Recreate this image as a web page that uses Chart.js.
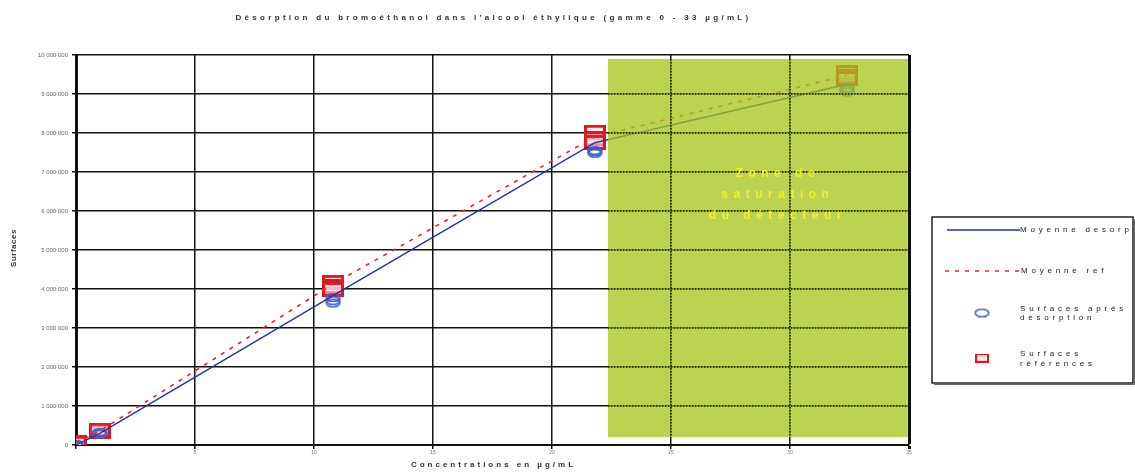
<!DOCTYPE html>
<html>
<head>
<meta charset="utf-8">
<script src="https://cdn.jsdelivr.net/npm/chart.js@4"></script>
<style>
  html, body { margin: 0; padding: 0; background: #ffffff; }
  #wrap { width: 1135px; height: 472px; position: relative; }
</style>
</head>
<body>
<div id="wrap"><canvas id="c" width="1135" height="472"></canvas></div>
<script>
// ---- data ----
const concentrations = [0, 1, 10.8, 21.8, 32.4];
const meanDesorp = [0, 300000, 3830000, 7750000, 9250000];
const meanRef = [50000, 360000, 4130000, 7900000, 9480000];
const desorpRep1 = [0, 300000, 3780000, 7550000, 9150000];
const desorpRep2 = [20000, 330000, 3700000, 7480000, 9100000];
const desorpRep3 = [0, 280000, 3640000, 7520000, 9050000];
const refRep1 = [60000, 360000, 4170000, 8020000, 9550000];
const refRep2 = [40000, 350000, 4060000, 7850000, 9450000];
const refRep3 = [50000, 380000, 3990000, 7760000, 9400000];
const xTicks = [0, 5, 10, 15, 20, 25, 30, 35];
const yTicks = [0, 1000000, 2000000, 3000000, 4000000, 5000000, 6000000, 7000000, 8000000, 9000000, 10000000];
const zoneRange = { xFrom: 22.35, xTo: 34.95, yFrom: 200000, yTo: 9900000 };
const zoneLines = ["Zone de", "saturation", "du détecteur"];
const titleText = "Désorption du bromoéthanol dans l'alcool éthylique (gamme 0 - 33 µg/mL)";
const xTitle = "Concentrations en µg/mL";
const yTitle = "Surfaces";
const legendLabels = ["Moyenne desorp", "Moyenne ref", ["Surfaces après", "désorption"], ["Surfaces", "références"]];

const FONT = "'Liberation Sans', Arial, sans-serif";

function pts(xs, ys) { return xs.map((x, i) => ({ x: x, y: ys[i] })); }

function makeRect() {
  const c = document.createElement('canvas'); c.width = 22; c.height = 15;
  const g = c.getContext('2d');
  g.fillStyle = 'rgba(255,215,230,0.6)'; g.fillRect(0, 0, 22, 15);
  g.strokeStyle = '#e01820'; g.lineWidth = 3; g.strokeRect(1.5, 1.5, 19, 12);
  return c;
}
function makeEllipse() {
  const c = document.createElement('canvas'); c.width = 17; c.height = 11;
  const g = c.getContext('2d');
  g.strokeStyle = '#3f5fd0'; g.lineWidth = 1.6;
  g.beginPath(); g.ellipse(8.5, 5.5, 6.8, 3.8, 0, 0, Math.PI * 2); g.stroke();
  return c;
}
const rectStyle = makeRect();
const ellStyle = makeEllipse();

function spacedText(ctx, text, x, y, ls) {
  ctx.letterSpacing = ls + 'px';
  ctx.fillText(text, x, y);
  ctx.letterSpacing = '0px';
}

const zonePlugin = {
  id: 'zone',
  afterDatasetsDraw(chart) {
    const { ctx, scales: { x, y } } = chart;
    const x0 = x.getPixelForValue(zoneRange.xFrom), x1 = x.getPixelForValue(zoneRange.xTo);
    const y0 = y.getPixelForValue(zoneRange.yTo), y1 = y.getPixelForValue(zoneRange.yFrom);
    ctx.save();
    ctx.fillStyle = 'rgba(167,196,26,0.76)';
    ctx.fillRect(x0, y0, x1 - x0, y1 - y0);
    ctx.strokeStyle = '#1a1a0a'; ctx.lineWidth = 1.5; ctx.setLineDash([1.5, 1.5]);
    ctx.beginPath();
    y.ticks.forEach(t => {
      const py = y.getPixelForValue(t.value);
      if (py > y0 + 1 && py < y1 - 1) { ctx.moveTo(x0, py); ctx.lineTo(x1, py); }
    });
    x.ticks.forEach(t => {
      const px = x.getPixelForValue(t.value);
      if (px > x0 + 1 && px < x1 - 1) { ctx.moveTo(px, y0); ctx.lineTo(px, y1); }
    });
    ctx.stroke();
    ctx.setLineDash([]);
    ctx.fillStyle = '#eeee3a';
    ctx.font = 'bold 12px ' + FONT;
    ctx.textAlign = 'center'; ctx.textBaseline = 'middle';
    const cx = (x0 + x1) / 2 + 17;
    const cy = y0 + (y1 - y0) * 0.36;
    zoneLines.forEach((t, i) => spacedText(ctx, t, cx + 3, cy + (i - 1) * 21, 5.5));
    ctx.restore();
  }
};

const textPlugin = {
  id: 'texts',
  afterDraw(chart) {
    const { ctx, chartArea: a } = chart;
    ctx.save();
    ctx.fillStyle = '#333';
    ctx.textAlign = 'center'; ctx.textBaseline = 'middle';
    ctx.font = 'bold 8px ' + FONT;
    spacedText(ctx, titleText, (a.left + a.right) / 2 + 1, 18, 3.3);
    ctx.font = 'bold 8px ' + FONT;
    spacedText(ctx, xTitle, (a.left + a.right) / 2 + 1, 465, 3);
    ctx.save();
    ctx.translate(14, 248); ctx.rotate(-Math.PI / 2);
    ctx.font = 'bold 8px ' + FONT;
    spacedText(ctx, yTitle, 0, 0, 0.5);
    ctx.restore();

    // legend
    const lx = 932, ly = 217, lw = 201, lh = 166;
    ctx.fillStyle = '#ffffff';
    ctx.fillRect(lx, ly, lw, lh);
    ctx.strokeStyle = '#222'; ctx.lineWidth = 1.5;
    ctx.strokeRect(lx, ly, lw, lh);
    ctx.strokeStyle = '#666'; ctx.lineWidth = 1;
    ctx.beginPath(); ctx.moveTo(lx + 2, ly + lh + 1.5); ctx.lineTo(lx + lw + 1.5, ly + lh + 1.5); ctx.lineTo(lx + lw + 1.5, ly + 2); ctx.stroke();

    const ds = chart.data.datasets;
    ctx.textAlign = 'left'; ctx.textBaseline = 'middle';
    ctx.font = '8px ' + FONT; ctx.fillStyle = '#222';
    ctx.strokeStyle = ds[0].borderColor; ctx.lineWidth = ds[0].borderWidth; ctx.setLineDash([]);
    ctx.beginPath(); ctx.moveTo(947, 230); ctx.lineTo(1020, 230); ctx.stroke();
    spacedText(ctx, legendLabels[0], 1020, 230, 3.8);
    ctx.strokeStyle = ds[1].borderColor; ctx.lineWidth = ds[1].borderWidth; ctx.setLineDash(ds[1].borderDash);
    ctx.beginPath(); ctx.moveTo(945, 271); ctx.lineTo(1020, 271); ctx.stroke();
    ctx.setLineDash([]);
    spacedText(ctx, legendLabels[1], 1021, 271, 3.8);
    ctx.drawImage(ellStyle, 982 - ellStyle.width / 2, 313 - ellStyle.height / 2);
    spacedText(ctx, legendLabels[2][0], 1020, 309, 3.8);
    spacedText(ctx, legendLabels[2][1], 1020, 318, 3.8);
    ctx.save(); ctx.translate(982, 358); ctx.scale(0.6, 0.6);
    ctx.drawImage(rectStyle, -rectStyle.width / 2, -rectStyle.height / 2);
    ctx.restore();
    spacedText(ctx, legendLabels[3][0], 1020, 354, 3.8);
    spacedText(ctx, legendLabels[3][1], 1020, 364, 3.8);
    ctx.restore();
  }
};

const bgPlugin = {
  id: 'bg',
  beforeDraw(chart) {
    const { ctx } = chart;
    ctx.save(); ctx.fillStyle = '#ffffff'; ctx.fillRect(0, 0, chart.width, chart.height); ctx.restore();
  }
};

function fmt(v) {
  if (v === 0) return '0';
  const m = Math.round(v / 1000000);
  return m + ' 000 000';
}

new Chart(document.getElementById('c'), {
  type: 'scatter',
  data: {
    datasets: [
      { label: 'Moyenne desorp', data: pts(concentrations, meanDesorp), showLine: true, borderColor: '#2233a8', borderWidth: 1.4, pointRadius: 0, order: 0 },
      { label: 'Moyenne ref', data: pts(concentrations, meanRef), showLine: true, borderColor: '#e02a2a', borderWidth: 1.6, borderDash: [4, 6], pointRadius: 0, order: 1 },
      { label: 'Surfaces après désorption', data: pts(concentrations, desorpRep1).concat(pts(concentrations, desorpRep2), pts(concentrations, desorpRep3)), pointStyle: ellStyle, pointRadius: 6, order: 2 },
      { label: 'Surfaces références', data: pts(concentrations, refRep1).concat(pts(concentrations, refRep2), pts(concentrations, refRep3)), pointStyle: rectStyle, pointRadius: 8, order: 3 }
    ]
  },
  options: {
    responsive: false,
    animation: false,
    layout: { padding: { top: 55, right: 226, left: 0, bottom: 0 } },
    plugins: { legend: { display: false }, tooltip: { enabled: false }, title: { display: false } },
    scales: {
      x: {
        type: 'linear', min: 0, max: 35,
        afterBuildTicks: (s) => { s.ticks = xTicks.map(v => ({ value: v })); },
        afterFit: (s) => { s.height = 27; },
        ticks: { font: { family: FONT, size: 5 }, color: '#777', padding: 1, maxRotation: 0, callback: (v) => v === 0 ? '' : String(v) },
        grid: { color: '#111', lineWidth: (c) => (c.tick && c.tick.value === 35) ? 3 : 1.5, tickLength: 4, drawTicks: true },
        border: { display: true, color: '#111', width: 2 }
      },
      y: {
        type: 'linear', min: 0, max: 10000000,
        afterBuildTicks: (s) => { s.ticks = yTicks.map(v => ({ value: v })); },
        afterFit: (s) => { s.width = 76; },
        ticks: { font: { family: FONT, size: 6 }, color: '#666', padding: 4, callback: (v) => fmt(v) },
        grid: { color: '#111', lineWidth: 1.5, tickLength: 4 },
        border: { display: true, color: '#111', width: 3 }
      }
    }
  },
  plugins: [bgPlugin, zonePlugin, textPlugin]
});
</script>
</body>
</html>
